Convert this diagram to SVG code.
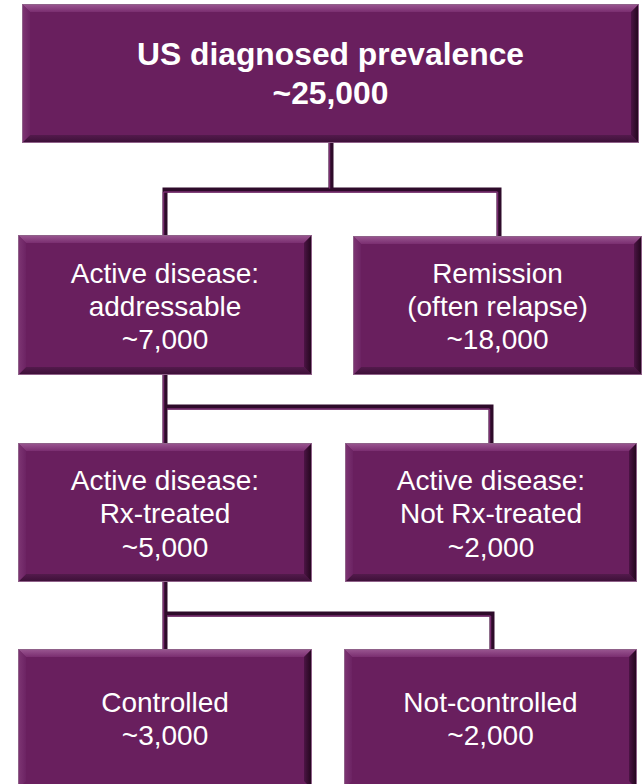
<svg xmlns="http://www.w3.org/2000/svg" width="642" height="784" viewBox="0 0 642 784">
<defs>
<linearGradient id="gT" x1="0" y1="0" x2="0" y2="1"><stop offset="0" stop-color="#9b5892"/><stop offset="1" stop-color="#7a2e70"/></linearGradient>
<linearGradient id="gB" x1="0" y1="0" x2="0" y2="1"><stop offset="0" stop-color="#531a4c"/><stop offset="1" stop-color="#3b0f36"/></linearGradient>
<linearGradient id="gL" x1="0" y1="0" x2="1" y2="0"><stop offset="0" stop-color="#7e3674"/><stop offset="1" stop-color="#6c2363"/></linearGradient>
<linearGradient id="gR" x1="0" y1="0" x2="1" y2="0"><stop offset="0" stop-color="#4c1445"/><stop offset="1" stop-color="#1f0519"/></linearGradient>
</defs>
<style>
.face{fill:#691f5e}
.bt{fill:url(#gT)}
.bb{fill:url(#gB)}
.bl{fill:url(#gL)}
.br{fill:url(#gR)}
.edge{fill:none;stroke:#8f6189;stroke-width:1}
.t{font-family:"Liberation Sans",Arial,sans-serif;font-size:28px;fill:#ffffff;text-anchor:middle}
.tb{font-family:"Liberation Sans",Arial,sans-serif;font-size:31.8px;font-weight:bold;fill:#ffffff;text-anchor:middle}
.cd{fill:none;stroke:#2e0b2a;stroke-width:5;stroke-linecap:square}
.ch{fill:none;stroke:#7a2e70;stroke-width:1.5}
</style>
<rect width="642" height="784" fill="#ffffff"/>
<g id="connectors">
<path class="cd" d="M331,143 V190 M165,190 H499 M165,190 V235 M499,190 V236"/>
<path class="ch" d="M329.5,143 V188.5 M163.5,192 H497.5 M163.5,192 V235 M497.5,192 V236"/>
<path class="cd" d="M165,375 V443 M165,407 H491 M491,407 V443"/>
<path class="ch" d="M163.5,375 V443 M167,409 H489.5 M489.5,409 V443"/>
<path class="cd" d="M165,582 V649 M165,614 H492 M492,614 V649"/>
<path class="ch" d="M163.5,582 V649 M167,616 H490.5 M490.5,616 V649"/>
</g>
<g id="n0">
<rect class="face" x="22" y="4" width="617" height="139"/>
<polygon class="bt" points="22,4 639,4 631,12 30,12"/>
<polygon class="bb" points="22,143 639,143 631,135 30,135"/>
<polygon class="bl" points="22,4 30,12 30,135 22,143"/>
<polygon class="br" points="639,4 631,12 631,135 639,143"/>
<rect class="edge" x="22.5" y="4.5" width="616" height="138"/>
<text class="tb" x="330.5" y="65">US diagnosed prevalence</text>
<text class="tb" x="330.5" y="104">~25,000</text>
</g>
<g id="n1">
<rect class="face" x="18" y="235" width="294" height="140"/>
<polygon class="bt" points="18,235 312,235 304,243 26,243"/>
<polygon class="bb" points="18,375 312,375 304,367 26,367"/>
<polygon class="bl" points="18,235 26,243 26,367 18,375"/>
<polygon class="br" points="312,235 304,243 304,367 312,375"/>
<rect class="edge" x="18.5" y="235.5" width="293" height="139"/>
<text class="t" x="165" y="283">Active disease:</text>
<text class="t" x="165" y="316">addressable</text>
<text class="t" x="165" y="349">~7,000</text>
</g>
<g id="n2">
<rect class="face" x="353" y="236" width="289" height="139"/>
<polygon class="bt" points="353,236 642,236 634,244 361,244"/>
<polygon class="bb" points="353,375 642,375 634,367 361,367"/>
<polygon class="bl" points="353,236 361,244 361,367 353,375"/>
<polygon class="br" points="642,236 634,244 634,367 642,375"/>
<rect class="edge" x="353.5" y="236.5" width="288" height="138"/>
<text class="t" x="497.5" y="283">Remission</text>
<text class="t" x="497.5" y="316">(often relapse)</text>
<text class="t" x="497.5" y="349">~18,000</text>
</g>
<g id="n3">
<rect class="face" x="18" y="443" width="294" height="139"/>
<polygon class="bt" points="18,443 312,443 304,451 26,451"/>
<polygon class="bb" points="18,582 312,582 304,574 26,574"/>
<polygon class="bl" points="18,443 26,451 26,574 18,582"/>
<polygon class="br" points="312,443 304,451 304,574 312,582"/>
<rect class="edge" x="18.5" y="443.5" width="293" height="138"/>
<text class="t" x="165" y="490">Active disease:</text>
<text class="t" x="165" y="523">Rx-treated</text>
<text class="t" x="165" y="557">~5,000</text>
</g>
<g id="n4">
<rect class="face" x="345" y="443" width="292" height="139"/>
<polygon class="bt" points="345,443 637,443 629,451 353,451"/>
<polygon class="bb" points="345,582 637,582 629,574 353,574"/>
<polygon class="bl" points="345,443 353,451 353,574 345,582"/>
<polygon class="br" points="637,443 629,451 629,574 637,582"/>
<rect class="edge" x="345.5" y="443.5" width="291" height="138"/>
<text class="t" x="491" y="490">Active disease:</text>
<text class="t" x="491" y="523">Not Rx-treated</text>
<text class="t" x="491" y="557">~2,000</text>
</g>
<g id="n5">
<rect class="face" x="18" y="649" width="294" height="140"/>
<polygon class="bt" points="18,649 312,649 304,657 26,657"/>
<polygon class="bl" points="18,649 26,657 26,781 18,789"/>
<polygon class="br" points="312,649 304,657 304,781 312,789"/>
<rect class="edge" x="18.5" y="649.5" width="293" height="140"/>
<text class="t" x="165" y="712">Controlled</text>
<text class="t" x="165" y="745">~3,000</text>
</g>
<g id="n6">
<rect class="face" x="344" y="649" width="293" height="140"/>
<polygon class="bt" points="344,649 637,649 629,657 352,657"/>
<polygon class="bl" points="344,649 352,657 352,781 344,789"/>
<polygon class="br" points="637,649 629,657 629,781 637,789"/>
<rect class="edge" x="344.5" y="649.5" width="292" height="140"/>
<text class="t" x="490.5" y="712">Not-controlled</text>
<text class="t" x="490.5" y="745">~2,000</text>
</g>
</svg>
